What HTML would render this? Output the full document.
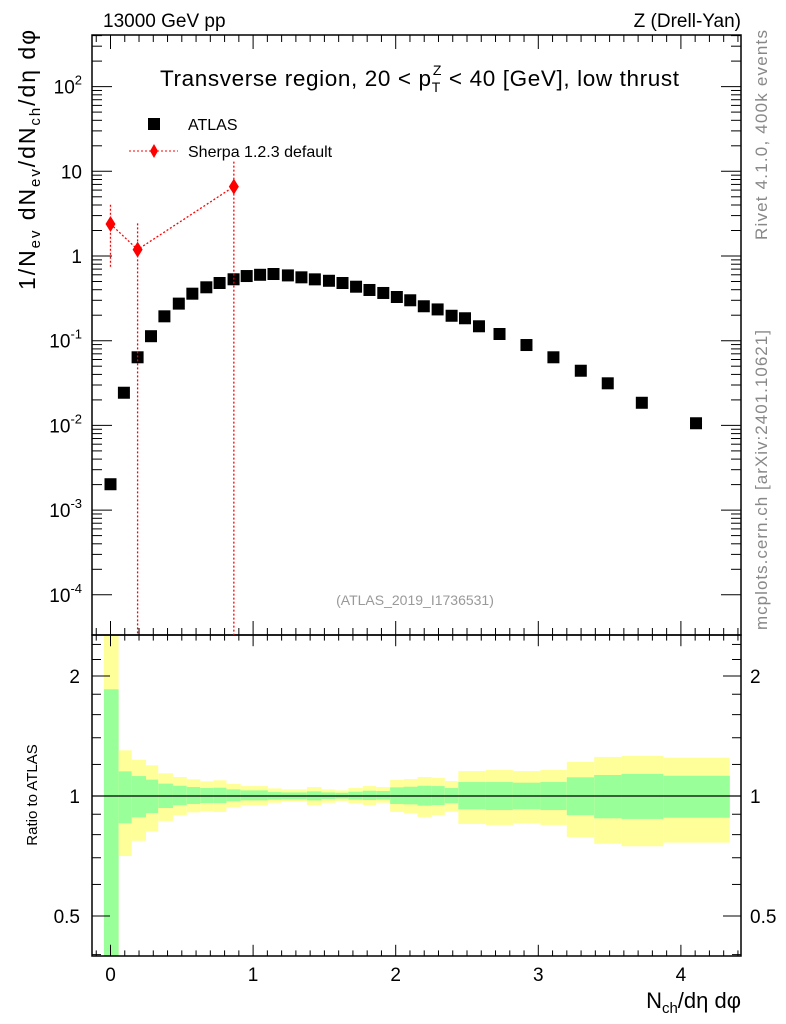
<!DOCTYPE html>
<html><head><meta charset="utf-8"><style>
body{margin:0;background:#fff;}
svg{display:block;font-family:"Liberation Sans",sans-serif;}
</style></head><body>
<svg id="c" width="786" height="1024" viewBox="0 0 786 1024">
<text x="103" y="27" font-size="19">13000 GeV pp</text>
<text x="741" y="27" font-size="19" text-anchor="end">Z (Drell-Yan)</text>
<text x="160" y="86" font-size="22.5" textLength="519" lengthAdjust="spacing">Transverse region, 20 &lt; p<tspan font-size="14" dy="6">T</tspan><tspan font-size="14" dx="-8" dy="-17">Z</tspan><tspan dy="11"> &lt; 40 [GeV], low thrust</tspan></text>
<text transform="translate(35,160) rotate(-90)" font-size="23" text-anchor="middle" textLength="260" lengthAdjust="spacing">1/N<tspan font-size="15" dy="5">ev</tspan><tspan dy="-5"> dN</tspan><tspan font-size="15" dy="5">ev</tspan><tspan dy="-5">/dN</tspan><tspan font-size="15" dy="5">ch</tspan><tspan dy="-5">/dη dφ</tspan></text>
<text transform="translate(767,135) rotate(-90)" font-size="17" fill="#888" text-anchor="middle" textLength="210" lengthAdjust="spacing">Rivet 4.1.0,  400k events</text>
<text transform="translate(767,480) rotate(-90)" font-size="17" fill="#888" text-anchor="middle" textLength="300" lengthAdjust="spacing">mcplots.cern.ch [arXiv:2401.10621]</text>
<text x="415" y="605" font-size="14" fill="#999" text-anchor="middle">(ATLAS_2019_I1736531)</text>
<text transform="translate(37,795) rotate(-90)" font-size="15" text-anchor="middle">Ratio to ATLAS</text>
<text x="741" y="1008" font-size="22" text-anchor="end">N<tspan font-size="15" dy="5">ch</tspan><tspan dy="-5">/dη dφ</tspan></text>
<g>
<rect x="148" y="118" width="12" height="12" fill="#000"/>
<text x="188" y="130" font-size="16">ATLAS</text>
<line x1="129" y1="151" x2="178" y2="151" stroke="red" stroke-dasharray="2,2"/>
<polygon points="154,144 158,151 154,158 150,151" fill="red"/>
<text x="188" y="157" font-size="16">Sherpa 1.2.3 default</text>
</g>
<g id="g"></g>
</svg>
<script>
const atlasX=[0,0.094,0.190,0.284,0.378,0.479,0.574,0.672,0.765,0.863,0.955,1.049,1.143,1.244,1.339,1.433,1.532,1.627,1.722,1.816,1.913,2.008,2.102,2.197,2.294,2.392,2.486,2.584,2.728,2.917,3.106,3.298,3.487,3.726,4.106];
const atlasY=[0.00202,0.0243,0.0637,0.113,0.194,0.274,0.359,0.427,0.48,0.531,0.58,0.60,0.613,0.59,0.56,0.53,0.51,0.48,0.434,0.397,0.366,0.328,0.30,0.255,0.234,0.197,0.184,0.148,0.12,0.0889,0.0637,0.0442,0.0314,0.0185,0.0106];
const sherpaX=[0,0.19,0.865];
const sherpaY=[2.39,1.19,6.6];
const sherpaUp=[4.03,2.43,13];
const sherpaDn=[0.71,0.00001,0.00001];
const binEdges=[-0.046,0.057,0.149,0.249,0.335,0.438,0.535,0.630,0.721,0.813,0.913,1.104,1.199,1.377,1.480,1.577,1.668,1.769,1.863,1.961,2.055,2.153,2.253,2.344,2.439,2.631,2.822,3.015,3.200,3.392,3.584,3.877,4.343];
const yelUp=[3,1.302,1.233,1.194,1.140,1.116,1.101,1.088,1.095,1.072,1.059,1.045,1.039,1.053,1.039,1.033,1.047,1.059,1.053,1.097,1.103,1.116,1.110,1.090,1.155,1.162,1.155,1.162,1.217,1.253,1.260,1.248];
const grnUp=[1.852,1.153,1.122,1.099,1.074,1.061,1.053,1.047,1.049,1.039,1.033,1.023,1.021,1.027,1.021,1.019,1.025,1.031,1.029,1.051,1.055,1.061,1.059,1.047,1.084,1.084,1.080,1.084,1.114,1.129,1.136,1.124];
const grnDn=[0.3,0.854,0.884,0.906,0.933,0.948,0.955,0.960,0.960,0.970,0.975,0.979,0.981,0.975,0.983,0.985,0.979,0.977,0.979,0.955,0.953,0.946,0.949,0.959,0.926,0.922,0.926,0.922,0.895,0.879,0.876,0.882];
const yelDn=[0.3,0.707,0.772,0.814,0.866,0.895,0.910,0.915,0.912,0.937,0.948,0.962,0.968,0.949,0.962,0.972,0.959,0.949,0.962,0.912,0.905,0.886,0.896,0.913,0.851,0.846,0.854,0.846,0.789,0.759,0.748,0.764];
const xTicks=[0,1,2,3,4];
const yTickExp=[-4,-3,-2,-1,0,1,2];
const rTicks=[0.5,1,2];

const L=92,R=741,T=35,MB=635,RB=956;
const sx=v=>110.5+v*142.6;
const sy=v=>256-Math.log10(v)*84.7;
const sr=v=>796-Math.log2(v)*120;
const NS='http://www.w3.org/2000/svg';
const g=document.getElementById('g');
function mk(t,a,p){const e=document.createElementNS(NS,t);for(const k in a)e.setAttribute(k,a[k]);(p||g).appendChild(e);return e;}
const clipY=(y,a,b)=>Math.max(a,Math.min(b,y));

for(let i=0;i<yelUp.length;i++){
  const x1=sx(binEdges[i]),x2=sx(binEdges[i+1]);
  let y1=clipY(sr(yelUp[i]),MB,RB),y2=clipY(sr(yelDn[i]),MB,RB);
  const yb=mk('rect',{x:x1,y:y1,width:x2-x1,height:y2-y1,fill:'#ffff99'});
  
  
  y1=clipY(sr(grnUp[i]),MB,RB);y2=clipY(sr(grnDn[i]),MB,RB);
  const gb=mk('rect',{x:x1,y:y1,width:x2-x1,height:y2-y1,fill:'#99ff99'});
  
  
}
const rl=mk('line',{x1:L,x2:R,y1:sr(1),y2:sr(1),stroke:'#000','stroke-width':1.2});



const f1=mk('rect',{x:L,y:T,width:R-L,height:MB-T,fill:'none',stroke:'#000','stroke-width':1.5});


const f2=mk('rect',{x:L,y:MB,width:R-L,height:RB-MB,fill:'none',stroke:'#000','stroke-width':1.5});



yTickExp.forEach(e=>{
  for(let m=1;m<10;m++){
    const v=m*Math.pow(10,e);const y=sy(v);
    if(y<T||y>MB)continue;
    const len=m===1?20:10;
    mk('line',{x1:L,x2:L+len,y1:y,y2:y,stroke:'#000'});
    mk('line',{x1:R,x2:R-len,y1:y,y2:y,stroke:'#000'});
  }
  const y=sy(Math.pow(10,e));
  let lbl;
  if(e===0)lbl='1';else if(e===1)lbl='10';
  else{lbl=null;}
  const t=mk('text',{x:82,y:y+7,'font-size':19,'text-anchor':'end'});
  
  
  if(lbl)t.textContent=lbl;
  else{t.textContent='10';const s=mk('tspan',{'font-size':13,dy:-9},t);s.textContent=String(e);}
});
for(let k=-1;k<=44;k++){
  const v=k/10;const x=sx(v);if(x<L||x>R)continue;
  const major=k%10===0;const lm=major?14:7;
  [[MB,-1],[T,1]].forEach(([y0,d])=>mk('line',{x1:x,x2:x,y1:y0,y2:y0+d*lm,stroke:'#000'}));
  [[RB,-1],[MB,1]].forEach(([y0,d])=>mk('line',{x1:x,x2:x,y1:y0,y2:y0+d*lm*0.8,stroke:'#000'}));
}
xTicks.forEach(v=>{
  const t=mk('text',{x:sx(v),y:981,'font-size':19,'text-anchor':'middle'});
  
  
  t.textContent=String(v);
});
[0.4,0.5,0.6,0.7,0.8,0.9,1,1.2,1.4,1.6,1.8,2,2.2,2.4].forEach(v=>{
  const y=sr(v);if(y<MB||y>RB)return;
  const major=rTicks.includes(v);const len=major?18:9;
  mk('line',{x1:L,x2:L+len,y1:y,y2:y,stroke:'#000'});
  mk('line',{x1:R,x2:R-len,y1:y,y2:y,stroke:'#000'});
});
rTicks.forEach(v=>{
  const t=mk('text',{x:80,y:sr(v)+7,'font-size':19,'text-anchor':'end'});
  
  
  t.textContent=String(v);
  const t2=mk('text',{x:750,y:sr(v)+7,'font-size':19});
  
  
  t2.textContent=String(v);
});

atlasX.forEach((v,i)=>{
  const r=mk('rect',{x:sx(v)-6,y:sy(atlasY[i])-6,width:12,height:12,fill:'#000'});
  
  
});
const pl=mk('polyline',{points:sherpaX.map((v,i)=>sx(v)+','+sy(sherpaY[i])).join(' '),fill:'none',stroke:'red','stroke-dasharray':'2,2','stroke-width':1.3});


sherpaX.forEach((v,i)=>{
  const x=sx(v),y=sy(sherpaY[i]);
  const yu=clipY(sy(sherpaUp[i]),T,MB),yd=clipY(sy(sherpaDn[i]),T,MB);
  const e=mk('line',{x1:x,x2:x,y1:yu,y2:yd,stroke:'red','stroke-dasharray':'2,2','stroke-width':1.3});
  
  
  const p=mk('polygon',{points:`${x},${y-8} ${x+5},${y} ${x},${y+8} ${x-5},${y}`,fill:'red'});
  
  
});
</script>
</body></html>
